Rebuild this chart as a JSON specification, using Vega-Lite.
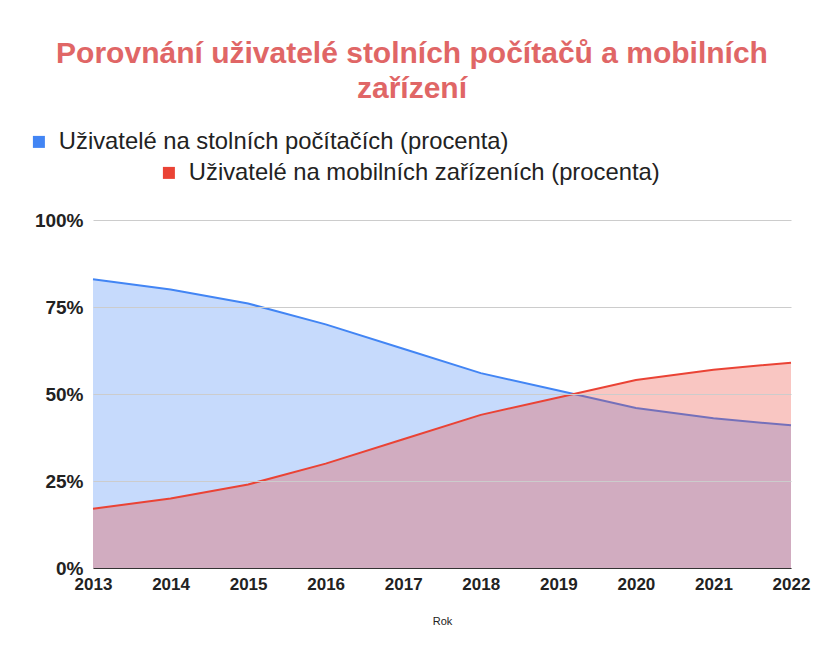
{
  "$schema": "https://vega.github.io/schema/vega-lite/v6.json",
  "width": 698,
  "height": 348,
  "autosize": {"type": "none"},
  "padding": {"left": 93, "top": 220, "right": 33, "bottom": 93},
  "background": "white",
  "title": {
    "text": ["Porovnání uživatelé stolních počítačů a mobilních", "zařízení"],
    "font": "Liberation Sans",
    "fontSize": 30,
    "fontWeight": "bold",
    "color": "#e06666",
    "anchor": "middle",
    "lineHeight": 35,
    "offset": 26,
    "dx": -30
  },
  "config": {"view": {"stroke": null}, "font": "Liberation Sans"},
  "data": {
    "values": [
      {"year": "2013", "series": "Uživatelé na stolních počítačích (procenta)", "value": 83},
      {"year": "2014", "series": "Uživatelé na stolních počítačích (procenta)", "value": 80},
      {"year": "2015", "series": "Uživatelé na stolních počítačích (procenta)", "value": 76},
      {"year": "2016", "series": "Uživatelé na stolních počítačích (procenta)", "value": 70},
      {"year": "2017", "series": "Uživatelé na stolních počítačích (procenta)", "value": 63},
      {"year": "2018", "series": "Uživatelé na stolních počítačích (procenta)", "value": 56},
      {"year": "2019", "series": "Uživatelé na stolních počítačích (procenta)", "value": 51},
      {"year": "2020", "series": "Uživatelé na stolních počítačích (procenta)", "value": 46},
      {"year": "2021", "series": "Uživatelé na stolních počítačích (procenta)", "value": 43},
      {"year": "2022", "series": "Uživatelé na stolních počítačích (procenta)", "value": 41},
      {"year": "2013", "series": "Uživatelé na mobilních zařízeních (procenta)", "value": 17},
      {"year": "2014", "series": "Uživatelé na mobilních zařízeních (procenta)", "value": 20},
      {"year": "2015", "series": "Uživatelé na mobilních zařízeních (procenta)", "value": 24},
      {"year": "2016", "series": "Uživatelé na mobilních zařízeních (procenta)", "value": 30},
      {"year": "2017", "series": "Uživatelé na mobilních zařízeních (procenta)", "value": 37},
      {"year": "2018", "series": "Uživatelé na mobilních zařízeních (procenta)", "value": 44},
      {"year": "2019", "series": "Uživatelé na mobilních zařízeních (procenta)", "value": 49},
      {"year": "2020", "series": "Uživatelé na mobilních zařízeních (procenta)", "value": 54},
      {"year": "2021", "series": "Uživatelé na mobilních zařízeních (procenta)", "value": 57},
      {"year": "2022", "series": "Uživatelé na mobilních zařízeních (procenta)", "value": 59}
    ]
  },
  "encoding": {
    "x": {
      "field": "year",
      "type": "ordinal",
      "scale": {"type": "point", "padding": 0},
      "axis": {
        "title": "Rok",
        "titleFontSize": 11,
        "titleFontWeight": "normal",
        "titleColor": "#222222",
        "titlePadding": 23,
        "labelAngle": 0,
        "labelFontSize": 17,
        "labelFontWeight": "bold",
        "labelColor": "#222222",
        "labelPadding": 8,
        "ticks": false,
        "grid": false,
        "domain": true,
        "domainColor": "#333333",
        "zindex": 1
      }
    },
    "y": {
      "field": "value",
      "type": "quantitative",
      "scale": {"domain": [0, 100]},
      "axis": {
        "title": null,
        "values": [0, 25, 50, 75, 100],
        "labelExpr": "datum.value + '%'",
        "labelFontSize": 19,
        "labelFontWeight": "bold",
        "labelColor": "#222222",
        "labelPadding": 10,
        "ticks": false,
        "domain": false,
        "grid": true,
        "gridColor": "#cccccc",
        "zindex": 1
      }
    }
  },
  "layer": [
    {
      "transform": [{"filter": "datum.series === 'Uživatelé na stolních počítačích (procenta)'"}],
      "encoding": {
        "color": {
          "field": "series",
          "type": "nominal",
          "scale": {"range": ["#4285f4"]},
          "legend": {
            "title": null,
            "orient": "none",
            "legendX": -66,
            "legendY": -90,
            "symbolType": "square",
            "symbolSize": 144,
            "symbolOpacity": 1,
            "symbolStrokeWidth": 0,
            "labelFontSize": 23.8,
            "labelColor": "#222222",
            "labelLimit": 700,
            "labelOffset": 8
          }
        }
      },
      "layer": [
        {"mark": {"type": "area", "opacity": 0.3}},
        {"mark": {"type": "line", "strokeWidth": 2}}
      ]
    },
    {
      "transform": [{"filter": "datum.series === 'Uživatelé na mobilních zařízeních (procenta)'"}],
      "encoding": {
        "color": {
          "field": "series",
          "type": "nominal",
          "scale": {"range": ["#ea4335"]},
          "legend": {
            "title": null,
            "orient": "none",
            "legendX": 64,
            "legendY": -59,
            "symbolType": "square",
            "symbolSize": 144,
            "symbolOpacity": 1,
            "symbolStrokeWidth": 0,
            "labelFontSize": 23.8,
            "labelColor": "#222222",
            "labelLimit": 700,
            "labelOffset": 8
          }
        }
      },
      "layer": [
        {"mark": {"type": "area", "opacity": 0.3}},
        {"mark": {"type": "line", "strokeWidth": 2}}
      ]
    }
  ],
  "resolve": {"scale": {"color": "independent"}}
}
